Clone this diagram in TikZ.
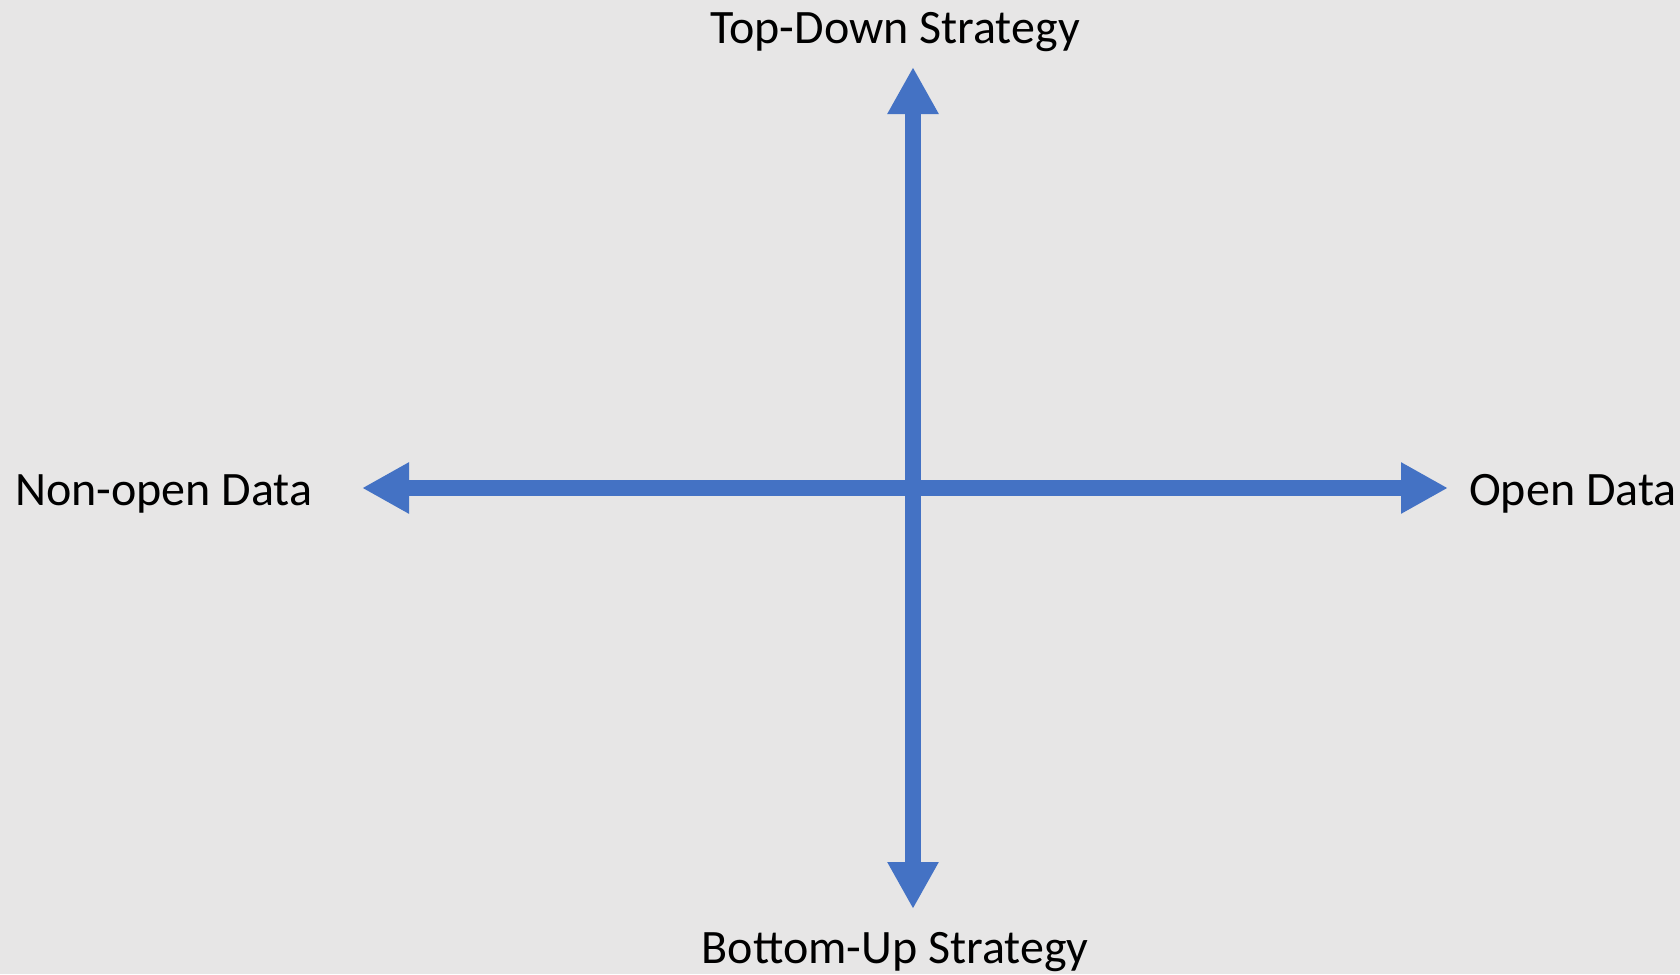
\documentclass[tikz,border=0pt]{standalone}
\usepackage{fontspec}
\setmainfont{Carlito}
\usetikzlibrary{arrows.meta}
\usetikzlibrary{math}
\definecolor{axisblue}{HTML}{4472C4}
\definecolor{panelgray}{HTML}{E7E6E6}

\begin{document}
\begin{tikzpicture}[x=1pt,y=-1pt,
	axis/.style={draw=axisblue,line width=16pt,{Triangle[width=48pt,length=47pt]}-{Triangle[width=48pt,length=47pt]}},
	axislabel/.style={inner sep=0pt,font=\fontsize{48}{58}\selectfont}]
	\tikzmath{\cx=913; \cy=488;
	\topy=67; \boty=909;
	\leftx=362; \rightx=1448;
	\txtx=895; \txttopy=44; \txtboty=963;
	\txtleftx=15; \txtrightx=1469; \txty=505;
	}
	\fill[panelgray] (0,0) rectangle (1680,974);
	% arrow ends
	\coordinate (top) at (\cx,\topy);
	\coordinate (bottom) at (\cx,\boty);
	\coordinate (left) at (\leftx,\cy);
	\coordinate (right) at (\rightx,\cy);
	% labels
	\node[axislabel,anchor=base] (topdown) at (\txtx,\txttopy) {Top-Down Strategy};
	\node[axislabel,anchor=base] (bottomup) at (\txtx,\txtboty) {Bottom-Up Strategy};
	\node[axislabel,anchor=base west] (nonopen) at (\txtleftx,\txty) {Non-open Data};
	\node[axislabel,anchor=base west] (open) at (\txtrightx,\txty) {Open Data};
	\draw[axis] (left) -- (right);
	\draw[axis] (top) -- (bottom);
\end{tikzpicture}
\end{document}
